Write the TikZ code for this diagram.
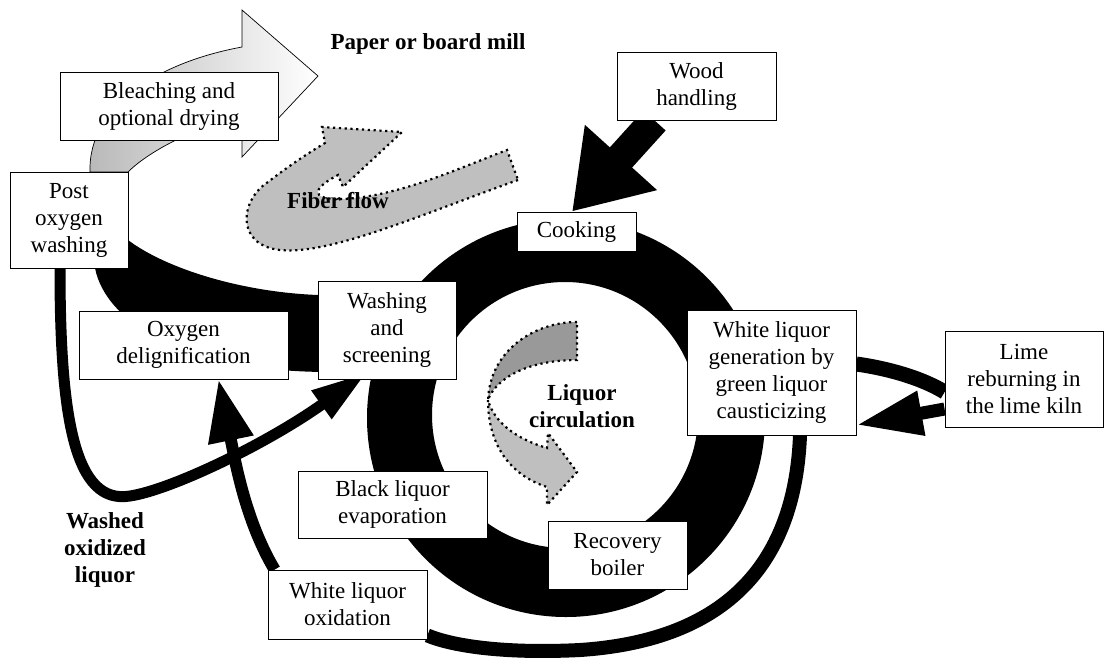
\documentclass[tikz,border=0pt]{standalone}
\usepackage{fontspec}
\setmainfont{Liberation Serif}
\usetikzlibrary{arrows.meta,calc}
\pgfdeclarelayer{bg}
\pgfsetlayers{bg,main}

\begin{document}
\begin{tikzpicture}[x=1pt,y=-1pt,
  every node/.style={font=\fontsize{23}{27}\selectfont},
  box/.style={draw, fill=white, line width=0.8pt, align=center, inner sep=0pt},
  lbl/.style={align=center, font=\fontsize{23}{27}\selectfont\bfseries},
  band/.style={draw=black, line width=#1},
  dotline/.style={draw=black, line width=2.2pt, dash pattern=on 2.2pt off 3.6pt},
]
\useasboundingbox (0,0) rectangle (1107,657);

% process boxes
\node[box, minimum width=218pt, minimum height=68pt] (bleach) at (169,106) {Bleaching and\\optional drying};
\node[box, minimum width=118pt, minimum height=96pt] (postox) at (69,220) {Post\\oxygen\\washing};
\node[box, minimum width=159pt, minimum height=68pt] (wood) at (696.5,86) {Wood\\handling};
\node[box, minimum width=119pt, minimum height=39pt] (cook) at (576.5,231.5) {Cooking};
\node[box, minimum width=138pt, minimum height=98pt] (wash) at (387,330) {Washing\\and\\screening};
\node[box, minimum width=209pt, minimum height=68pt] (oxdel) at (183.5,345) {Oxygen\\delignification};
\node[box, minimum width=169pt, minimum height=125pt] (wlgen) at (771.5,372.5) {White liquor\\generation by\\green liquor\\causticizing};
\node[box, minimum width=158pt, minimum height=96pt] (lime) at (1024,379) {Lime\\reburning in\\the lime kiln};
\node[box, minimum width=189pt, minimum height=67pt] (black) at (392.5,504.5) {Black liquor\\evaporation};
\node[box, minimum width=139pt, minimum height=68pt] (recov) at (617.5,555) {Recovery\\boiler};
\node[box, minimum width=159pt, minimum height=69pt] (wlox) at (347.5,604.5) {White liquor\\oxidation};

% free labels
\node[lbl] (mill) at (428,44) {Paper or board mill};
\node[lbl] (fiber) at (338,201) {Fiber flow};
\node[lbl] (liq) at (582,406) {Liquor\\circulation};
\node[lbl] (washed) at (105,550) {Washed\\oxidized\\liquor};

\begin{pgfonlayer}{bg}
  \fill[white] (0,0) rectangle (1107,657);

  % liquor ring
  \fill[black, even odd rule] (566,418) circle[radius=199pt] (565,415) circle[radius=133pt];

  % fiber line from screening back to post oxygen washing
  \fill[black] (330,295) -- (318,295) .. controls (240,292) and (165,268) .. (128,240)
    -- (90,240) -- (95,268) .. controls (105,320) and (180,372) .. (330,372) -- cycle;

  % bleached pulp to the paper mill
  \draw[line width=0.7pt, left color=gray!55, right color=white]
    (90,172) .. controls (88,105) and (160,62) .. (242,47) -- (242,10) -- (318,76)
    -- (242,157) -- (242,117) .. controls (200,125) and (150,150) .. (128,172) -- cycle;

  % fiber flow symbol
  \filldraw[fill=gray!50, dotline]
    (518,180) .. controls (420,215) and (330,255) .. (280,250)
    .. controls (235,245) and (240,200) .. (268,182)
    .. controls (290,165) and (310,152) .. (325,143)
    -- (322,127) -- (402,132) -- (343,187) -- (338,175)
    .. controls (315,187) and (305,200) .. (345,199)
    .. controls (400,195) and (450,172) .. (507,150) -- cycle;

  % liquor circulation symbol
  \filldraw[fill=gray!80, dotline]
    (577,322) .. controls (535,322) and (490,350) .. (488,400)
    .. controls (495,380) and (525,360) .. (577,360) -- cycle;
  \filldraw[fill=gray!50, dotline]
    (488,400) .. controls (488,445) and (510,475) .. (547,487)
    -- (547,505) -- (577,472) -- (548,433) -- (547,448)
    .. controls (520,440) and (495,425) .. (488,400) -- cycle;

  % connectors
  \draw[band=30pt, -{Triangle[length=73pt,width=92pt]}]
    ($(wood.south)+(-42,0)$) -- ($(cook.north)+(-4.5,0)$);
  \draw[band=11pt, -{Triangle[length=56pt,width=32pt]}]
    ($(postox.south)+(-9,0)$) .. controls (60,420) and (75,505) .. (130,496)
    .. controls (170,490) and (265,445) .. ($(wash.south)+(-20,-7)$);
  \draw[band=14pt]
    ($(wlgen.south)+(28.5,0)$) .. controls (795,560) and (730,640) .. (580,650)
    .. controls (500,654) and (450,645) .. ($(wlox.south east)+(0,-4)$);
  \draw[band=12pt, -{Triangle[length=62pt,width=43pt]}]
    ($(wlox.north west)+(7,0)$) .. controls (245,520) and (235,460) .. ($(oxdel.south)+(35,0)$);
  \draw[band=15pt]
    ($(wlgen.east)+(0,-8.5)$) .. controls (885,368) and (920,377) .. ($(lime.west)+(0,13)$);
  \draw[band=13pt, -{Triangle[length=66pt,width=42pt]}]
    ($(lime.west)+(0,30)$) -- ($(wlgen.east)+(0,52.5)$);
\end{pgfonlayer}
\end{tikzpicture}
\end{document}
